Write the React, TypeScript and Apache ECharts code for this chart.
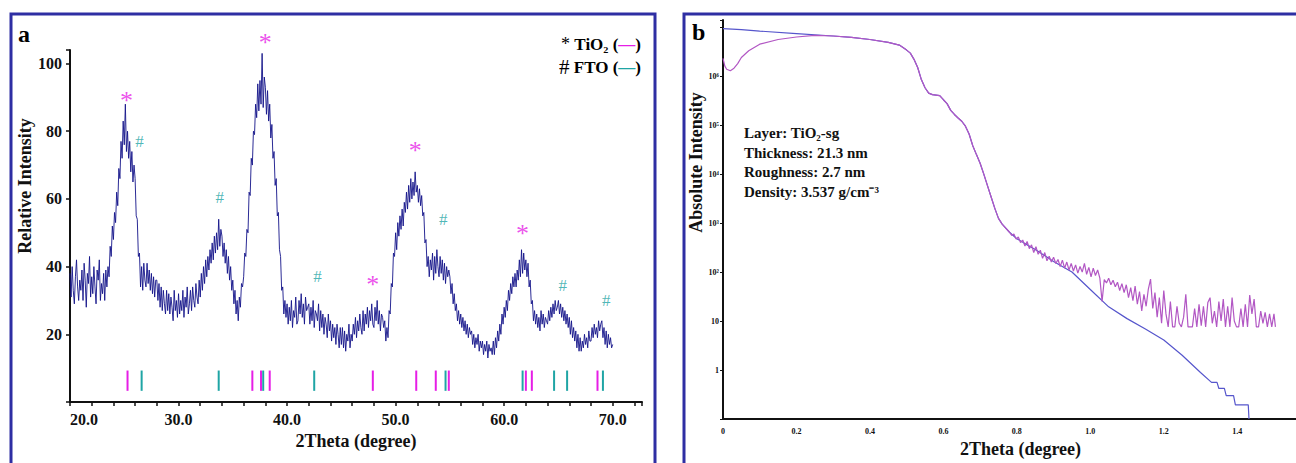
import React, { useEffect, useRef } from "react";
import * as echarts from "echarts";

// ---------- Panel a: XRD pattern ----------
const XRD_START = 20;
const XRD_STEP = 0.1;
const xrdIntensity = [
  38, 31, 40, 33, 29, 37, 42, 34, 30, 36,
  33, 39, 30, 41, 36, 28, 38, 35, 43, 31,
  37, 32, 40, 34, 29, 39, 36, 42, 30, 35,
  32, 38, 30, 39, 34, 40, 37, 46, 43, 52,
  48, 56, 53, 62, 58, 69, 66, 77, 72, 83,
  76, 88, 74, 80, 72, 77, 68, 74, 65, 70,
  66, 55, 54, 43, 44, 34, 40, 33, 41, 36,
  34, 41, 35, 39, 33, 38, 32, 37, 31, 36,
  36, 30, 35, 28, 34, 27, 33, 29, 26, 33,
  27, 32, 26, 31, 28, 24, 33, 27, 30, 25,
  32, 26, 30, 27, 33, 25, 31, 28, 34, 26,
  29, 33, 27, 34, 30, 28, 35, 31, 29, 36,
  31, 38, 33, 40, 35, 42, 37, 43, 39, 45,
  41, 47, 42, 49, 44, 50, 45, 54, 46, 51,
  49, 43, 47, 41, 45, 38, 43, 36, 40, 33,
  36, 29, 33, 26, 30, 24, 31, 28, 35, 34,
  37, 44, 43, 51, 50, 62, 61, 72, 70, 80,
  79, 88, 84, 94, 86, 95, 88, 103, 87, 96,
  93, 85, 92, 83, 88, 78, 82, 72, 74, 64,
  66, 55, 56, 45, 43, 33, 34, 26, 30, 25,
  29, 23, 28, 24, 30, 22, 27, 25, 31, 23,
  24, 30, 26, 32, 25, 29, 23, 31, 27, 28,
  29, 23, 28, 24, 30, 22, 27, 26, 24, 29,
  21, 27, 22, 26, 20, 25, 23, 19, 26, 21,
  24, 18, 23, 19, 22, 17, 23, 20, 16, 22,
  17, 22, 16, 21, 15, 20, 18, 23, 16, 20,
  18, 23, 20, 25, 19, 24, 21, 26, 22, 20,
  27, 21, 26, 23, 28, 22, 27, 24, 29, 23,
  22, 28, 24, 30, 23, 27, 21, 26, 25, 22,
  24, 18, 22, 19, 27, 26, 35, 34, 44, 43,
  50, 45, 53, 49, 55, 51, 57, 52, 59, 56,
  62, 57, 64, 59, 66, 60, 65, 61, 68, 62,
  64, 59, 63, 58, 61, 55, 56, 47, 48, 40,
  43, 37, 42, 39, 44, 36, 43, 38, 45, 40,
  37, 43, 38, 42, 36, 41, 35, 40, 37, 39,
  37, 32, 35, 29, 32, 27, 29, 24, 27, 23,
  26, 22, 25, 21, 24, 20, 23, 19, 22, 20,
  21, 17, 20, 16, 19, 17, 20, 15, 18, 16,
  18, 14, 17, 15, 18, 13, 17, 15, 16, 14,
  18, 14, 19, 16, 21, 18, 23, 20, 26, 23,
  28, 25, 30, 27, 33, 30, 35, 32, 37, 34,
  38, 34, 39, 36, 42, 37, 45, 38, 44, 39,
  42, 37, 41, 34, 36, 29, 30, 24, 27, 23,
  26, 22, 25, 21, 27, 23, 26, 22, 25, 24,
  23, 27, 24, 28, 25, 29, 26, 30, 27, 28,
  30, 26, 29, 25, 28, 24, 27, 23, 26, 22,
  25, 20, 24, 19, 22, 18, 21, 16, 20, 15,
  19, 15, 18, 16, 20, 17, 19, 16, 21, 18,
  18, 22, 19, 23, 20, 22, 19, 24, 21, 23,
  24, 19, 22, 17, 21, 16, 20, 17, 19, 16,
  17,
];

// reference stick positions (2θ)
const tio2Sticks = [25.3, 36.8, 37.6, 38.4, 47.9, 51.9, 53.7, 54.9, 62.0, 62.55, 68.6];
const ftoSticks = [26.6, 33.7, 37.8, 42.5, 54.6, 61.7, 64.6, 65.8, 69.1];
const STICK_BOTTOM = 3.3;
const STICK_TOP = 9.3;

// peak annotations [2θ, intensity]
const tio2Marks = [[25.2, 91], [38.0, 108], [47.9, 36.5], [51.8, 76], [61.7, 51.5]];
const ftoMarks = [[26.4, 77], [33.8, 60.5], [42.8, 37], [54.4, 54], [65.4, 34.5], [69.4, 30]];

// ---------- Panel b: XRR ----------
const fitCurve = [
  [0.0, 9.3e6], [0.05, 8.9e6], [0.1, 8.3e6], [0.2, 7.4e6], [0.3, 6.6e6], [0.35, 6.2e6],
  [0.4, 5.6e6], [0.45, 4.9e6], [0.48, 4.3e6], [0.5, 3.4e6], [0.51, 2.95e6], [0.52, 2.2e6],
  [0.53, 1.5e6], [0.54, 8.5e5], [0.55, 5.8e5], [0.56, 4.5e5], [0.57, 4.2e5], [0.58, 4.1e5],
  [0.59, 4.0e5], [0.6, 3.3e5], [0.61, 2.75e5], [0.62, 2.0e5], [0.63, 1.65e5], [0.64, 1.4e5],
  [0.65, 1.2e5], [0.66, 9.5e4], [0.67, 6.6e4], [0.68, 3.8e4], [0.69, 2.5e4], [0.7, 1.66e4],
  [0.71, 1.0e4], [0.72, 5.8e3], [0.73, 3.4e3], [0.74, 2.0e3], [0.75, 1.25e3], [0.76, 950],
  [0.78, 650], [0.8, 480], [0.82, 390], [0.85, 290], [0.9, 165], [0.95, 100], [1.0, 44],
  [1.05, 19.5], [1.1, 11.2], [1.15, 6.9], [1.2, 4.1], [1.25, 2.0], [1.3, 0.89],
  [1.33, 0.56], [1.345, 0.56], [1.35, 0.42], [1.365, 0.42], [1.37, 0.3], [1.39, 0.3],
  [1.395, 0.195], [1.43, 0.195], [1.432, 0.1],
];

const measuredCurve = [
  [0.0, 2.3e6], [0.005, 1.6e6], [0.01, 1.38e6], [0.02, 1.29e6], [0.03, 1.45e6], [0.04, 1.8e6],
  [0.05, 2.4e6], [0.07, 3.3e6], [0.1, 4.5e6], [0.15, 5.6e6], [0.2, 6.3e6], [0.25, 6.8e6],
  [0.3, 6.6e6], [0.35, 6.2e6], [0.4, 5.6e6], [0.45, 4.9e6], [0.48, 4.3e6], [0.5, 3.4e6],
  [0.51, 2.95e6], [0.52, 2.2e6], [0.53, 1.5e6], [0.54, 8.5e5], [0.55, 5.8e5], [0.56, 4.5e5],
  [0.57, 4.2e5], [0.58, 4.1e5], [0.59, 4.0e5], [0.6, 3.3e5], [0.61, 2.75e5], [0.62, 2.0e5],
  [0.63, 1.65e5], [0.64, 1.4e5], [0.65, 1.2e5], [0.66, 9.5e4], [0.67, 6.6e4], [0.68, 3.8e4],
  [0.69, 2.5e4], [0.7, 1.66e4], [0.71, 1.0e4], [0.72, 5.8e3], [0.73, 3.4e3], [0.74, 2.0e3],
  [0.75, 1.25e3], [0.76, 950],
  [0.78, 650], [0.786, 560], [0.792, 600], [0.798, 470], [0.804, 520], [0.81, 400], [0.816, 450],
  [0.822, 340], [0.828, 420], [0.834, 300], [0.84, 360], [0.846, 250], [0.852, 330], [0.858, 230],
  [0.864, 280], [0.87, 190], [0.876, 250], [0.882, 170], [0.888, 210], [0.894, 160], [0.9, 200],
  [0.906, 150], [0.912, 180], [0.918, 130], [0.924, 175], [0.93, 120], [0.936, 160], [0.942, 110],
  [0.948, 150], [0.954, 105], [0.96, 140], [0.966, 95], [0.972, 130], [0.978, 100], [0.984, 150],
  [0.99, 90], [0.996, 125], [1.002, 80], [1.008, 120], [1.014, 85], [1.02, 110], [1.026, 75],
  [1.032, 25], [1.038, 70], [1.044, 60], [1.05, 75], [1.056, 55], [1.062, 68], [1.068, 50],
  [1.074, 62], [1.08, 42], [1.086, 58], [1.092, 38], [1.098, 55], [1.104, 30], [1.11, 48],
  [1.116, 26], [1.122, 52], [1.128, 22], [1.134, 40], [1.14, 16], [1.146, 35], [1.152, 20],
  [1.158, 45], [1.164, 72], [1.17, 18], [1.176, 38], [1.182, 12], [1.188, 30], [1.194, 9],
  [1.2, 42], [1.206, 14], [1.212, 7.6], [1.218, 25], [1.224, 7.6], [1.23, 7.6], [1.236, 20],
  [1.242, 9], [1.248, 7.6], [1.254, 12], [1.26, 35], [1.266, 7.6], [1.272, 7.6], [1.278, 7.6],
  [1.284, 18], [1.29, 7.6], [1.296, 22], [1.302, 8], [1.308, 20], [1.314, 7.6], [1.32, 24],
  [1.326, 30], [1.332, 9], [1.338, 16], [1.344, 7.6], [1.35, 25], [1.356, 10], [1.362, 28],
  [1.368, 7.6], [1.374, 20], [1.38, 7.6], [1.386, 30], [1.392, 10], [1.398, 7.6], [1.404, 7.6],
  [1.41, 18], [1.416, 7.6], [1.422, 22], [1.428, 7.6], [1.434, 34], [1.44, 14], [1.446, 28],
  [1.452, 7.6], [1.458, 7.6], [1.464, 16], [1.47, 9], [1.476, 15], [1.482, 7.6], [1.488, 14],
  [1.494, 7.6], [1.5, 14], [1.504, 7.6],
];

const xrrInfo = ["Layer: TiO₂-sg", "Thickness: 21.3 nm", "Roughness: 2.7 nm", "Density: 3.537 g/cm⁻³"];

const SERIF = "'Liberation Serif', 'Times New Roman', serif";
const MAGENTA = "#e61ee6";
const TEAL = "#1fa5a5";
const SUP = ["⁰", "¹", "²", "³", "⁴", "⁵", "⁶", "⁷"];

export default function App() {
  const ref = useRef<HTMLDivElement>(null);

  useEffect(() => {
    if (!ref.current) return;
    const chart = echarts.init(ref.current, null, { renderer: "svg" });

    const xrdData = xrdIntensity.map((v, i) => [Math.round((XRD_START + i * XRD_STEP) * 10) / 10, v]);

    const stickRender = (color: string) => (params: any, api: any) => {
      const x = api.value(0);
      const p1 = api.coord([x, STICK_BOTTOM]);
      const p2 = api.coord([x, STICK_TOP]);
      return {
        type: "line",
        shape: { x1: p1[0], y1: p1[1], x2: p2[0], y2: p2[1] },
        style: { stroke: color, lineWidth: 2 },
      };
    };

    const axisCommon = {
      axisLine: { show: true, lineStyle: { color: "#111", width: 2 } },
      splitLine: { show: false },
    };

    const option: any = {
      animation: false,
      backgroundColor: "#ffffff",
      textStyle: { fontFamily: SERIF },
      grid: [
        { left: 70, top: 50, width: 572, height: 352, outerBoundsMode: "none" },
        { left: 723, top: 20, width: 573, height: 399, outerBoundsMode: "none" },
      ],
      xAxis: [
        {
          gridIndex: 0,
          type: "value",
          min: 20,
          max: 72.7,
          interval: 2,
          ...axisCommon,
          axisTick: { show: true, length: 4, lineStyle: { color: "#111", width: 1.5 } },
          axisLabel: {
            color: "#111",
            fontFamily: SERIF,
            fontWeight: "bold",
            fontSize: 16,
            margin: 9,
            alignMinLabel: "left",
            formatter: (v: number) => (Math.abs(v / 10 - Math.round(v / 10)) < 1e-6 ? v.toFixed(1) : ""),
          },
          name: "2Theta (degree)",
          nameLocation: "middle",
          nameGap: 29,
          nameTextStyle: { color: "#111", fontFamily: SERIF, fontWeight: "bold", fontSize: 18 },
        },
        {
          gridIndex: 1,
          type: "value",
          min: 0,
          max: 1.56,
          interval: 0.2,
          ...axisCommon,
          axisTick: { show: false },
          axisLabel: {
            color: "#111",
            fontFamily: SERIF,
            fontWeight: "bold",
            fontSize: 8,
            margin: 8,
            formatter: (v: number) => {
              const r = Math.round(v * 5);
              if (Math.abs(v * 5 - r) > 1e-6) return "";
              return v === 0 ? "0" : v.toFixed(1);
            },
          },
          name: "2Theta (degree)",
          nameLocation: "middle",
          nameGap: 20,
          nameTextStyle: {
            color: "#111", fontFamily: SERIF, fontWeight: "bold", fontSize: 18, padding: [0, 0, 0, 22],
          },
        },
      ],
      yAxis: [
        {
          gridIndex: 0,
          type: "value",
          min: 0,
          max: 104,
          interval: 20,
          ...axisCommon,
          axisTick: { show: true, length: 4, lineStyle: { color: "#111", width: 1.5 } },
          axisLabel: {
            color: "#111",
            fontFamily: SERIF,
            fontWeight: "bold",
            fontSize: 16,
            margin: 8,
            formatter: (v: number) => (v > 0 && v <= 100 && v % 20 === 0 ? String(v) : ""),
          },
          name: "Relative Intensity",
          nameLocation: "middle",
          nameGap: 31,
          nameRotate: 90,
          nameTextStyle: {
            color: "#111", fontFamily: SERIF, fontWeight: "bold", fontSize: 18, padding: [0, 0, 0, 80],
          },
        },
        {
          gridIndex: 1,
          type: "log",
          logBase: 10,
          min: 0.1,
          max: 1.4e7,
          splitNumber: 8,
          ...axisCommon,
          axisTick: { show: true, length: 3, lineStyle: { color: "#111", width: 1 } },
          axisLabel: {
            color: "#111",
            fontFamily: SERIF,
            fontWeight: "bold",
            fontSize: 8,
            margin: 4,
            formatter: (v: number) => {
              const l = Math.log10(v);
              const e = Math.round(l);
              if (Math.abs(l - e) > 0.01 || e < 0 || e > 6) return "";
              if (e === 0) return "1";
              if (e === 1) return "10";
              return "10" + SUP[e];
            },
          },
          name: "Absolute Intensity",
          nameLocation: "middle",
          nameGap: 14,
          nameRotate: 90,
          nameTextStyle: {
            color: "#111", fontFamily: SERIF, fontWeight: "bold", fontSize: 18, padding: [0, 0, 0, 114],
          },
        },
      ],
      series: [
        {
          type: "line",
          name: "XRD",
          xAxisIndex: 0,
          yAxisIndex: 0,
          data: xrdData,
          showSymbol: false,
          symbol: "none",
          lineStyle: { color: "#14148a", width: 1, opacity: 0.9 },
          z: 3,
        },
        {
          type: "custom",
          name: "TiO2 ref",
          xAxisIndex: 0,
          yAxisIndex: 0,
          data: tio2Sticks.map((x) => [x, STICK_TOP]),
          renderItem: stickRender(MAGENTA),
          z: 2,
        },
        {
          type: "custom",
          name: "FTO ref",
          xAxisIndex: 0,
          yAxisIndex: 0,
          data: ftoSticks.map((x) => [x, STICK_TOP]),
          renderItem: stickRender(TEAL),
          z: 2,
        },
        {
          type: "scatter",
          name: "TiO2 peaks",
          xAxisIndex: 0,
          yAxisIndex: 0,
          clip: false,
          symbolSize: 1,
          itemStyle: { color: "rgba(0,0,0,0)" },
          data: tio2Marks,
          label: {
            show: true,
            position: "inside",
            formatter: "*",
            color: MAGENTA,
            fontFamily: SERIF,
            fontSize: 26,
            offset: [0, 6],
          },
          z: 4,
        },
        {
          type: "scatter",
          name: "FTO peaks",
          xAxisIndex: 0,
          yAxisIndex: 0,
          clip: false,
          symbolSize: 1,
          itemStyle: { color: "rgba(0,0,0,0)" },
          data: ftoMarks,
          label: {
            show: true,
            position: "inside",
            formatter: "#",
            color: TEAL,
            fontFamily: SERIF,
            fontSize: 17,
          },
          z: 4,
        },
        {
          type: "line",
          name: "Fit",
          xAxisIndex: 1,
          yAxisIndex: 1,
          data: fitCurve,
          showSymbol: false,
          symbol: "none",
          lineStyle: { color: "#5656cc", width: 1.2 },
          z: 3,
        },
        {
          type: "line",
          name: "Measured",
          xAxisIndex: 1,
          yAxisIndex: 1,
          data: measuredCurve,
          showSymbol: false,
          symbol: "none",
          lineStyle: { color: "#b257c4", width: 1.2 },
          z: 4,
        },
      ],
      graphic: [
        {
          type: "rect",
          shape: { x: 11, y: 14, width: 644, height: 480 },
          style: { fill: "none", stroke: "#2e2ea3", lineWidth: 3 },
          silent: true,
        },
        {
          type: "rect",
          shape: { x: 684, y: 14, width: 640, height: 480 },
          style: { fill: "none", stroke: "#2e2ea3", lineWidth: 3 },
          silent: true,
        },
        {
          type: "text",
          x: 18,
          y: 34,
          style: { text: "a", font: `bold 24px ${SERIF}`, fill: "#000", verticalAlign: "middle" },
        },
        {
          type: "text",
          x: 692,
          y: 32,
          style: { text: "b", font: `bold 24px ${SERIF}`, fill: "#000", verticalAlign: "middle" },
        },
        {
          type: "text",
          x: 641,
          y: 44,
          style: {
            text: "{s|*} TiO₂ ({m|—})",
            align: "right",
            verticalAlign: "middle",
            font: `bold 17px ${SERIF}`,
            fill: "#000",
            rich: {
              s: { fontSize: 18, fontFamily: SERIF, fill: "#000", lineHeight: 17 },
              m: { fontSize: 17, fontWeight: "bold", fontFamily: SERIF, fill: MAGENTA, lineHeight: 17 },
            },
          },
        },
        {
          type: "text",
          x: 641,
          y: 67,
          style: {
            text: "{s|#} FTO ({m|—})",
            align: "right",
            verticalAlign: "middle",
            font: `bold 17px ${SERIF}`,
            fill: "#000",
            rich: {
              s: { fontSize: 21, fontFamily: SERIF, fill: "#000", lineHeight: 18 },
              m: { fontSize: 17, fontWeight: "bold", fontFamily: SERIF, fill: TEAL, lineHeight: 17 },
            },
          },
        },
        ...xrrInfo.map((t, i) => ({
          type: "text",
          x: 744,
          y: 133 + i * 19.7,
          style: { text: t, font: `bold 15px ${SERIF}`, fill: "#111", verticalAlign: "middle" },
        })),
      ],
    };

    chart.setOption(option);
    return () => chart.dispose();
  }, []);

  return (
    <div
      ref={ref}
      style={{ position: "fixed", left: 0, top: 0, width: 1296, height: 463, background: "#fff" }}
    />
  );
}
